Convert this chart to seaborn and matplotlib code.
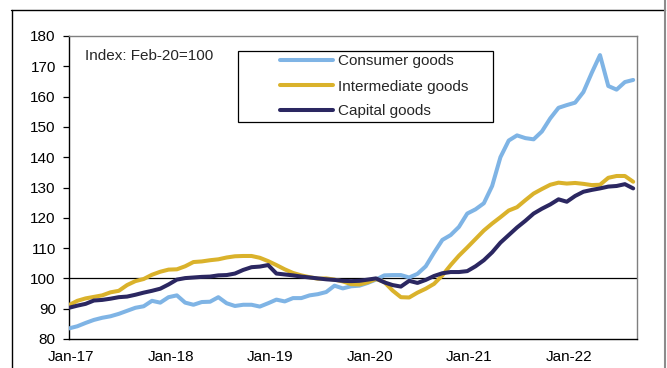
import numpy as np
import pandas as pd
import matplotlib
matplotlib.use("Agg")
import matplotlib.pyplot as plt
from matplotlib.patches import Rectangle
from matplotlib.lines import Line2D
import seaborn as sns

# ---- data (monthly, Jan-17 .. Sep-22) ----
months = pd.date_range("2017-01-01", periods=69, freq="MS")
consumer = [83.5, 84.2, 85.3, 86.3, 87.0, 87.5, 88.3, 89.3, 90.3, 90.8,
            92.6, 92.0, 93.8, 94.4, 92.0, 91.3, 92.2, 92.3, 93.8, 91.8,
            90.9, 91.3, 91.3, 90.7, 91.8, 93.0, 92.4, 93.5, 93.5, 94.4,
            94.8, 95.5, 97.6, 96.7, 97.4, 97.6, 98.5, 99.6, 101.0, 101.1,
            101.1, 100.3, 101.5, 104.0, 108.5, 112.7, 114.3, 117.0, 121.4, 122.8,
            124.8, 130.5, 140.0, 145.5, 147.2, 146.3, 145.9, 148.5, 152.8, 156.3,
            157.2, 158.0, 161.5, 167.8, 173.7, 163.5, 162.3, 164.8, 165.5]
intermediate = [91.2, 92.6, 93.4, 93.9, 94.4, 95.4, 95.9, 97.8, 99.1, 99.8,
                101.2, 102.2, 102.9, 103.0, 104.0, 105.4, 105.6, 106.0, 106.3, 106.9,
                107.3, 107.4, 107.4, 106.8, 105.7, 104.4, 103.0, 101.8, 101.0, 100.4,
                99.9, 100.0, 99.6, 99.0, 98.1, 98.0, 98.7, 99.8, 98.8, 96.0,
                93.8, 93.7, 95.3, 96.6, 98.2, 101.0, 104.4, 107.5, 110.2, 113.0,
                115.8, 118.1, 120.2, 122.4, 123.5, 125.8, 128.0, 129.5, 130.9, 131.6,
                131.3, 131.5, 131.2, 130.8, 130.9, 133.2, 133.8, 133.8, 131.9]
capital = [90.3, 91.0, 91.6, 92.7, 92.9, 93.3, 93.8, 94.0, 94.6, 95.3,
           95.9, 96.6, 98.0, 99.6, 100.1, 100.3, 100.5, 100.6, 101.0, 101.1,
           101.6, 102.8, 103.7, 103.9, 104.4, 101.6, 101.3, 101.0, 100.6, 100.3,
           100.0, 99.7, 99.5, 99.2, 99.1, 99.2, 99.6, 100.0, 98.7, 97.8,
           97.3, 99.2, 98.5, 99.5, 100.8, 101.7, 102.1, 102.1, 102.4, 104.0,
           106.0, 108.6, 111.8, 114.3, 116.8, 119.0, 121.4, 123.0, 124.4, 126.1,
           125.3, 127.2, 128.6, 129.2, 129.7, 130.3, 130.5, 131.1, 129.7]
series_names = ["Consumer goods", "Intermediate goods", "Capital goods"]
colors = ["#7FB4E5", "#DAB22B", "#2B2761"]
y_ticks = [80, 90, 100, 110, 120, 130, 140, 150, 160, 170, 180]
note_text = "Index: Feb-20=100"

df = pd.DataFrame({
    "t": np.tile(np.arange(len(months)), 3),
    "value": consumer + intermediate + capital,
    "series": np.repeat(series_names, len(months)),
})

sns.set_style("white")
plt.rcParams["font.family"] = ["Liberation Sans", "DejaVu Sans"]
plt.rcParams["font.size"] = 11

fig = plt.figure(figsize=(6.67, 3.68), dpi=100)
ax = fig.add_axes([69 / 667, 1 - 339 / 368, 567.5 / 667, 303 / 368])

ax.axhline(100, color="black", lw=0.9, zorder=1)
sns.lineplot(data=df, x="t", y="value", hue="series", hue_order=series_names,
             palette=colors, lw=2.9, legend=False, ax=ax, zorder=3)

ax.set_xlim(0, 68.4)
ax.set_ylim(80, 180)
ax.set_yticks(y_ticks)
ax.set_yticklabels([str(v) for v in y_ticks])
jan_idx = [i for i, d in enumerate(months) if d.month == 1]
ax.set_xticks([i + 0.25 for i in jan_idx])
ax.set_xticklabels([months[i].strftime("%b-%y") for i in jan_idx])
ax.set_xlabel("")
ax.set_ylabel("")
ax.tick_params(axis="x", length=0, pad=8, labelsize=11, colors="black")
ax.tick_params(axis="y", length=4, width=0.9, pad=5.5, labelsize=11,
               colors="black", direction="out", left=True)
for side in ["left", "bottom"]:
    ax.spines[side].set_color("black")
    ax.spines[side].set_linewidth(1.0)
for side in ["top", "right"]:
    ax.spines[side].set_color("#7f7f7f")
    ax.spines[side].set_linewidth(1.0)
ax.grid(False)

fig.text(85 / 667, 1 - 56 / 368, note_text, fontsize=11, va="center", ha="left")

# legend box + legend
ax.add_patch(Rectangle((238 / 667, 1 - 121.7 / 368), 255 / 667, 71 / 368,
                       transform=fig.transFigure, facecolor="white",
                       edgecolor="black", lw=0.9, zorder=4, clip_on=False))
handles = [Line2D([0], [0], color=c, lw=2.9) for c in colors]
leg = ax.legend(handles, series_names, loc="center left",
                bbox_to_anchor=(272.7 / 667, 1 - 86.5 / 368),
                bbox_transform=fig.transFigure, frameon=False, borderpad=0,
                handlelength=3.45, handletextpad=0.33, labelspacing=0.72,
                fontsize=11)
leg.set_zorder(5)

# outer frame
fig.add_artist(Line2D([11.5 / 667, 11.5 / 667], [0, 1 - 9.5 / 368],
                      transform=fig.transFigure, color="black", lw=1.0))
fig.add_artist(Line2D([11 / 667, 664.5 / 667], [1 - 9.5 / 368, 1 - 9.5 / 368],
                      transform=fig.transFigure, color="black", lw=1.0))
fig.add_artist(Line2D([664.5 / 667, 664.5 / 667], [0, 1],
                      transform=fig.transFigure, color="#8c8c8c", lw=1.5))

fig.savefig("out.png", dpi=100)
